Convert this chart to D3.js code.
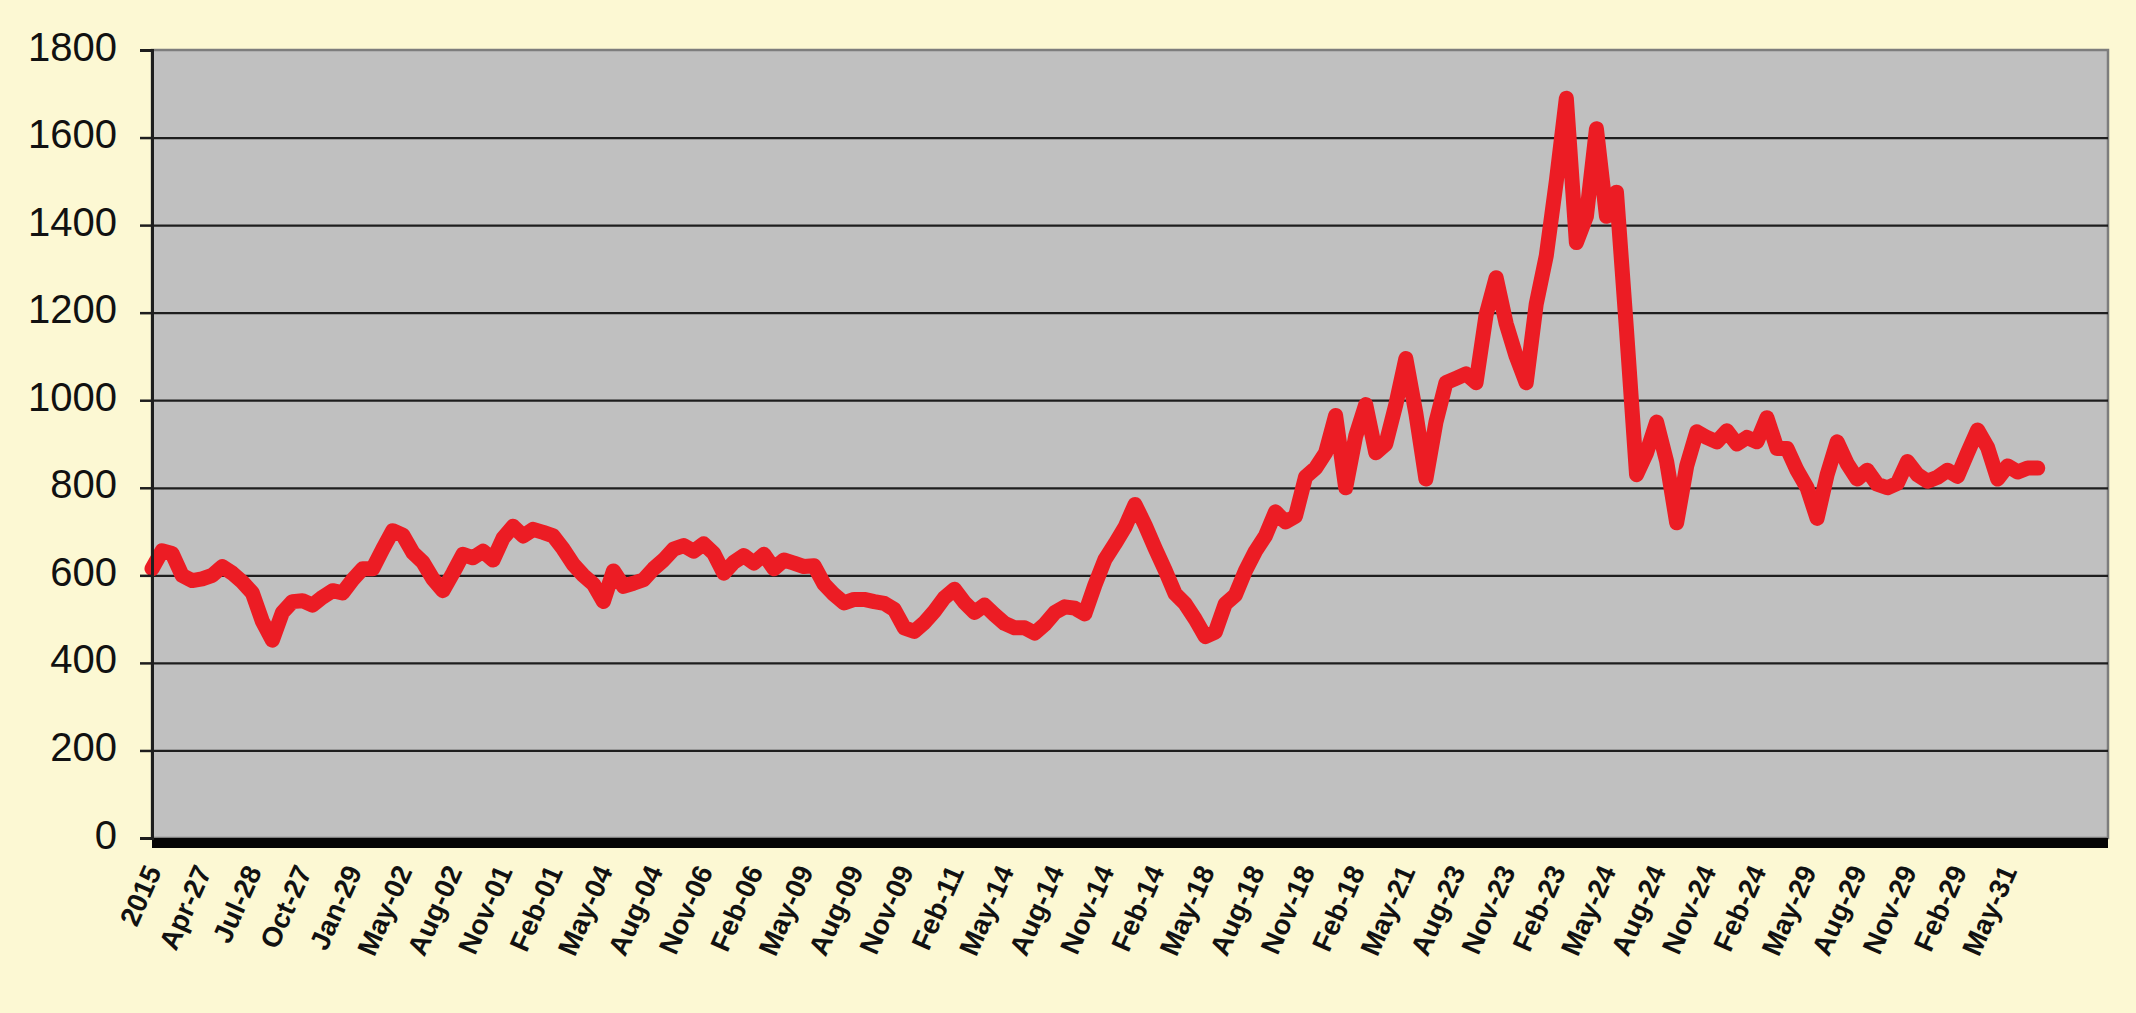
<!DOCTYPE html>
<html>
<head>
<meta charset="utf-8">
<script src="https://cdn.jsdelivr.net/npm/d3@7"></script>
<style>
  body { margin: 0; background: #fcf8d3; }
  svg { display: block; }
  .grid line { stroke: #1e1e1e; stroke-width: 2.2px; }
  .grid path { display: none; }
</style>
</head>
<body>
<svg id="chart"></svg>
<script>

// tick labels on the category axis, one every 5 points
var categoryLabels = ["2015", "Apr-27", "Jul-28", "Oct-27", "Jan-29", "May-02", "Aug-02", "Nov-01",
  "Feb-01", "May-04", "Aug-04", "Nov-06", "Feb-06", "May-09", "Aug-09", "Nov-09", "Feb-11",
  "May-14", "Aug-14", "Nov-14", "Feb-14", "May-18", "Aug-18", "Nov-18", "Feb-18", "May-21",
  "Aug-23", "Nov-23", "Feb-23", "May-24", "Aug-24", "Nov-24", "Feb-24", "May-29", "Aug-29",
  "Nov-29", "Feb-29", "May-31"];
var labelStep = 5;

var yTicks = [0, 200, 400, 600, 800, 1000, 1200, 1400, 1600, 1800];

// series values
var values = [
  615, 656, 650, 600, 588, 592, 600, 620, 605, 585,
  560, 495, 452, 515, 540, 542, 532, 550, 565, 560,
  590, 615, 615, 660, 702, 692, 652, 630, 592, 565,
  605, 648, 640, 655, 635, 685, 712, 690, 705, 698,
  690, 660, 625, 600, 580, 540, 610, 575, 582, 590,
  615, 635, 660, 668, 655, 672, 650, 605, 630, 645,
  628, 648, 615, 635, 628, 620, 622, 580, 556, 537,
  545, 545, 540, 536, 522, 480, 472, 492, 518, 549,
  568, 538, 515, 532, 510, 490, 480, 480, 468, 488,
  515, 528, 525, 512, 578, 636, 672, 710, 762, 715,
  662, 612, 558, 535, 500, 460, 470, 535, 555, 610,
  655, 690, 745, 722, 735, 825, 845, 880, 965, 800,
  918, 990, 880, 900, 990, 1095, 970, 820, 950, 1040,
  1050, 1060, 1040, 1195, 1280, 1175, 1100, 1040, 1220, 1330,
  1500, 1690, 1360, 1420, 1620, 1420, 1475, 1160, 830, 880,
  950, 860, 720, 850, 928, 915, 905, 930, 900, 915,
  905, 960, 890, 890, 840, 800, 730, 830, 905, 855,
  820, 840, 808, 800, 810, 860, 830, 815, 824, 840,
  826, 880, 932, 892, 820, 850, 836, 845, 845
];

var margin = {top: 50, right: 28, bottom: 175, left: 152},
    width = 2136 - margin.left - margin.right,
    height = 1013 - margin.top - margin.bottom;

var svg = d3.select("#chart")
    .attr("width", 2136)
    .attr("height", 1013);

var g = svg.append("g")
    .attr("transform", "translate(" + margin.left + "," + margin.top + ")");

// the category axis holds 195 slots, the series fills most of them
var x = d3.scaleLinear().domain([0, 195]).range([0, width]);
var y = d3.scaleLinear().domain([0, 1800]).range([height, 0]);

// plot area
g.append("rect")
    .attr("width", width)
    .attr("height", height)
    .attr("fill", "#c0c0c0")
    .attr("stroke", "#7d7d7d")
    .attr("stroke-width", 2.5);

// gridlines
g.append("g")
    .attr("class", "grid")
    .call(d3.axisLeft(y).tickValues(yTicks.slice(1, -1)).tickSize(-width).tickFormat(""));

// the line
var line = d3.line()
    .x(function(d, i) { return x(i); })
    .y(function(d) { return y(d); });

g.append("path")
    .datum(values)
    .attr("fill", "none")
    .attr("stroke", "#ec1c24")
    .attr("stroke-width", 15)
    .attr("stroke-linejoin", "round")
    .attr("stroke-linecap", "round")
    .attr("d", line);

// thick floor under the plot
g.append("rect")
    .attr("x", 0)
    .attr("y", height)
    .attr("width", width)
    .attr("height", 10)
    .attr("fill", "#050505");

// Y axis
var yAxis = g.append("g")
    .call(d3.axisLeft(y).tickValues(yTicks).tickSize(12).tickPadding(23).tickFormat(d3.format("d")));
yAxis.select(".domain").attr("stroke", "#1e1e1e").attr("stroke-width", 3);
yAxis.selectAll(".tick line").attr("stroke", "#1e1e1e").attr("stroke-width", 2.5);
yAxis.selectAll(".tick text")
    .attr("dy", "0.25em")
    .style("font-family", "'Liberation Sans', Arial, sans-serif")
    .style("font-size", "40px")
    .attr("fill", "#111");

// category labels, rotated
g.selectAll(".xlabel")
    .data(categoryLabels)
    .enter().append("text")
    .attr("class", "xlabel")
    .attr("transform", function(d, j) {
        return "translate(" + (x(j * labelStep) + 10) + "," + (height + 33) + ") rotate(-66)";
    })
    .style("text-anchor", "end")
    .style("font-family", "'Liberation Sans', Arial, sans-serif")
    .style("font-size", "28px")
    .style("font-weight", "bold")
    .attr("fill", "#111")
    .text(function(d) { return d; });

</script>
</body>
</html>
